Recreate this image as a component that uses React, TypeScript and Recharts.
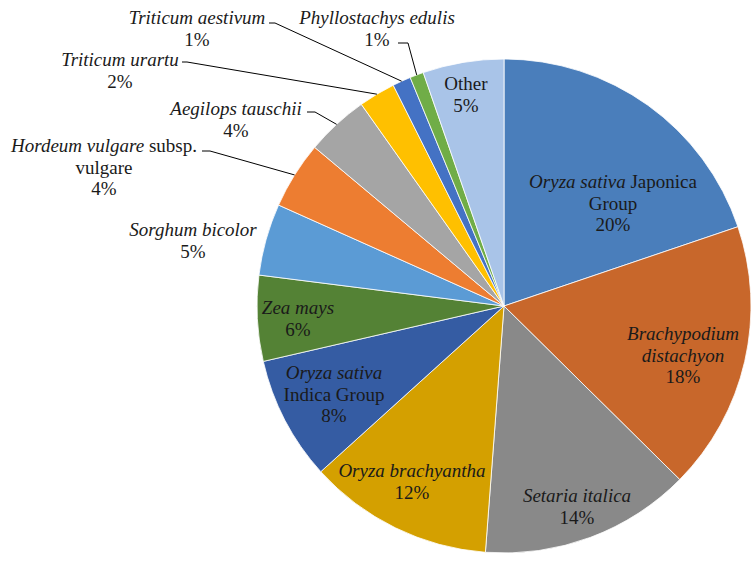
import { PieChart, Pie, Cell } from 'recharts';

// species shares (%), clockwise from 12 o'clock
const species = [
  'Oryza sativa Japonica Group',
  'Brachypodium distachyon',
  'Setaria italica',
  'Oryza brachyantha',
  'Oryza sativa Indica Group',
  'Zea mays',
  'Sorghum bicolor',
  'Hordeum vulgare subsp. vulgare',
  'Aegilops tauschii',
  'Triticum urartu',
  'Triticum aestivum',
  'Phyllostachys edulis',
  'Other',
];
const shares = [19.8, 17.6, 13.8, 12.1, 8.1, 5.6, 4.7, 4.4, 4.1, 2.4, 1.2, 0.9, 5.3];
// label text: '|' splits lines, *...* is italic
const labelText = [
  '*Oryza sativa* Japonica|Group',
  '*Brachypodium*|*distachyon*',
  '*Setaria italica*',
  '*Oryza brachyantha*',
  '*Oryza sativa*|Indica Group',
  '*Zea mays*',
  '*Sorghum bicolor*',
  '*Hordeum vulgare* subsp.|vulgare',
  '*Aegilops tauschii*',
  '*Triticum urartu*',
  '*Triticum aestivum*',
  '*Phyllostachys edulis*',
  'Other',
];
const colors = [
  '#4A7EBB', '#C8672B', '#898989', '#D4A000', '#355CA3', '#548235', '#5B9BD5',
  '#ED7D31', '#A5A5A5', '#FFC000', '#4472C4', '#70AD47', '#A9C4E8',
];

// label layout: first-line centre relative to pie centre
const labelPos: [number, number][] = [
  [109, -125], [179, 27], [73, 189], [-92, 164], [-170, 66], [-206, 1], [-311, -77],
  [-400, -161], [-268, -198], [-384, -247], [-307, -289], [-127, -289], [-38, -223],
];
// leader lines: [elbowX, elbowY, endX, endY] relative to pie centre
const leaders: (number[] | null)[] = [
  null, null, null, null, null, null, null,
  [-294, -155, -302, -155],
  [-189, -194, -197, -194],
  [-317, -244, -322, -244],
  [-229, -283, -235, -283],
  [-96, -263, -106, -263],
  null,
];

const data = species.map((name, i) => ({ name, value: shares[i] }));

const CX = 504;
const CY = 306;
const R = 247;
const LINE_H = 21.5;
const RAD = Math.PI / 180;
const FONT = '"Liberation Serif", "DejaVu Serif", "Times New Roman", serif';

const renderLabel = (props: any) => {
  const { midAngle, index, value } = props;
  const cx = typeof props.cx === 'number' ? props.cx : CX;
  const cy = typeof props.cy === 'number' ? props.cy : CY;
  const lines = labelText[index].split('|');
  lines.push(`${Math.round(value)}%`);
  const [lx, ly] = labelPos[index];
  const lead = leaders[index];
  let leadPath = null;
  if (lead) {
    const ex = cx + R * Math.cos(-midAngle * RAD);
    const ey = cy + R * Math.sin(-midAngle * RAD);
    leadPath = (
      <polyline
        points={`${ex},${ey} ${cx + lead[0]},${cy + lead[1]} ${cx + lead[2]},${cy + lead[3]}`}
        fill="none"
        stroke="#000"
        strokeWidth={1}
      />
    );
  }
  return (
    <g key={`lbl-${index}`}>
      {leadPath}
      {lines.map((line, li) => (
        <text
          key={li}
          x={cx + lx}
          y={cy + ly + li * LINE_H}
          textAnchor="middle"
          dominantBaseline="central"
          fill="#1a1a1a"
          style={{ fontFamily: FONT, fontSize: 19 }}
        >
          {line.split('*').map((seg, si) =>
            seg ? (
              <tspan key={si} style={{ fontStyle: si % 2 === 1 ? 'italic' : 'normal' }}>
                {seg}
              </tspan>
            ) : null
          )}
        </text>
      ))}
    </g>
  );
};

export default function App() {
  return (
    <div style={{ position: 'absolute', left: 0, top: 0, background: '#fff' }}>
      <PieChart width={754} height={564} margin={{ top: 0, right: 0, bottom: 0, left: 0 }}>
        <Pie
          data={data}
          dataKey="value"
          nameKey="name"
          cx={CX}
          cy={CY}
          outerRadius={R}
          startAngle={90}
          endAngle={-270}
          stroke="#ffffff"
          strokeWidth={0.8}
          label={renderLabel}
          labelLine={false}
          isAnimationActive={false}
        >
          {data.map((d, i) => (
            <Cell key={d.name} fill={colors[i]} />
          ))}
        </Pie>
      </PieChart>
    </div>
  );
}
